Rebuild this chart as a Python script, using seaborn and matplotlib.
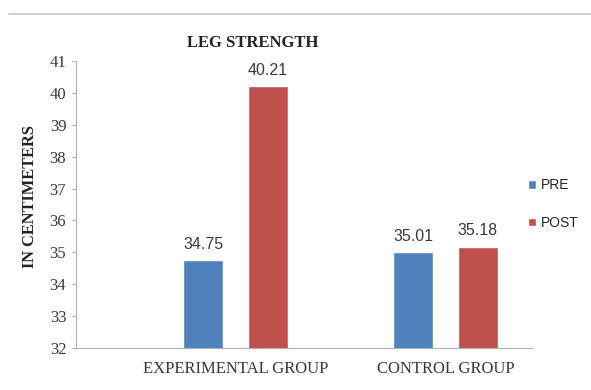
import pandas as pd
import matplotlib.pyplot as plt
import seaborn as sns

# Data
groups = ['EXPERIMENTAL GROUP', 'CONTROL GROUP']
phases = ['PRE', 'POST']
pre_values = [34.75, 35.01]
post_values = [40.21, 35.18]
colors = ['#4F81BD', '#C0504D']

df = pd.DataFrame({
    'group': groups * 2,
    'phase': ['PRE'] * len(groups) + ['POST'] * len(groups),
    'value': pre_values + post_values,
})

sns.set_style("white")
plt.rcParams['font.family'] = ['Liberation Serif', 'DejaVu Serif']

fig = plt.figure(figsize=(5.91, 3.90), dpi=100)
ax = fig.add_axes([0.1286, 0.1077, 0.902 - 0.1286, 0.8436 - 0.1077])

sns.barplot(data=df, x='group', y='value', hue='phase', order=groups,
            hue_order=phases, palette=colors, width=0.614, gap=0.38,
            saturation=1, ax=ax)

ax.set_ylim(32, 41)
ax.set_yticks(range(32, 42))
ax.set_xlim(-0.76, 1.417)
ax.set_xlabel('')
ax.set_ylabel('')

for container in ax.containers:
    ax.bar_label(container, fmt='%.2f', padding=6, fontsize=11.5,
                 family='Liberation Sans', color='#3a3a3a')

for side in ['top', 'right']:
    ax.spines[side].set_visible(False)
for side in ['left', 'bottom']:
    ax.spines[side].set_color('#b0b0b0')
    ax.spines[side].set_linewidth(0.8)

ax.tick_params(axis='y', which='both', left=True, length=3, color='#b0b0b0',
               labelsize=12, labelcolor='#3a3a3a', pad=4)
ax.tick_params(axis='x', bottom=False, labelsize=12, labelcolor='#3a3a3a', pad=6)

# legend
handles, labels = ax.get_legend_handles_labels()
ax.legend(handles, labels, loc='center left', bbox_to_anchor=(0.872, 1 - 204 / 390),
          bbox_transform=fig.transFigure, frameon=False, handlelength=0.6,
          handleheight=0.6, handletextpad=0.35, labelspacing=1.7,
          prop={'family': 'Liberation Sans', 'size': 10})

fig.text(253 / 591, 1 - 43 / 390, 'LEG STRENGTH', ha='center', va='center',
         fontsize=12, fontweight='bold', color='#222222')
fig.text(30 / 591, 1 - 197 / 390, 'IN CENTIMETERS', ha='center', va='center',
         rotation=90, fontsize=11.8, fontweight='bold', color='#222222')

# page border line at the top
fig.add_artist(plt.Line2D([0.015, 1.0], [1 - 13.5 / 390, 1 - 13.5 / 390],
                          transform=fig.transFigure, color='#c8c8c8', lw=1.2))

fig.savefig('out.png', dpi=100)
